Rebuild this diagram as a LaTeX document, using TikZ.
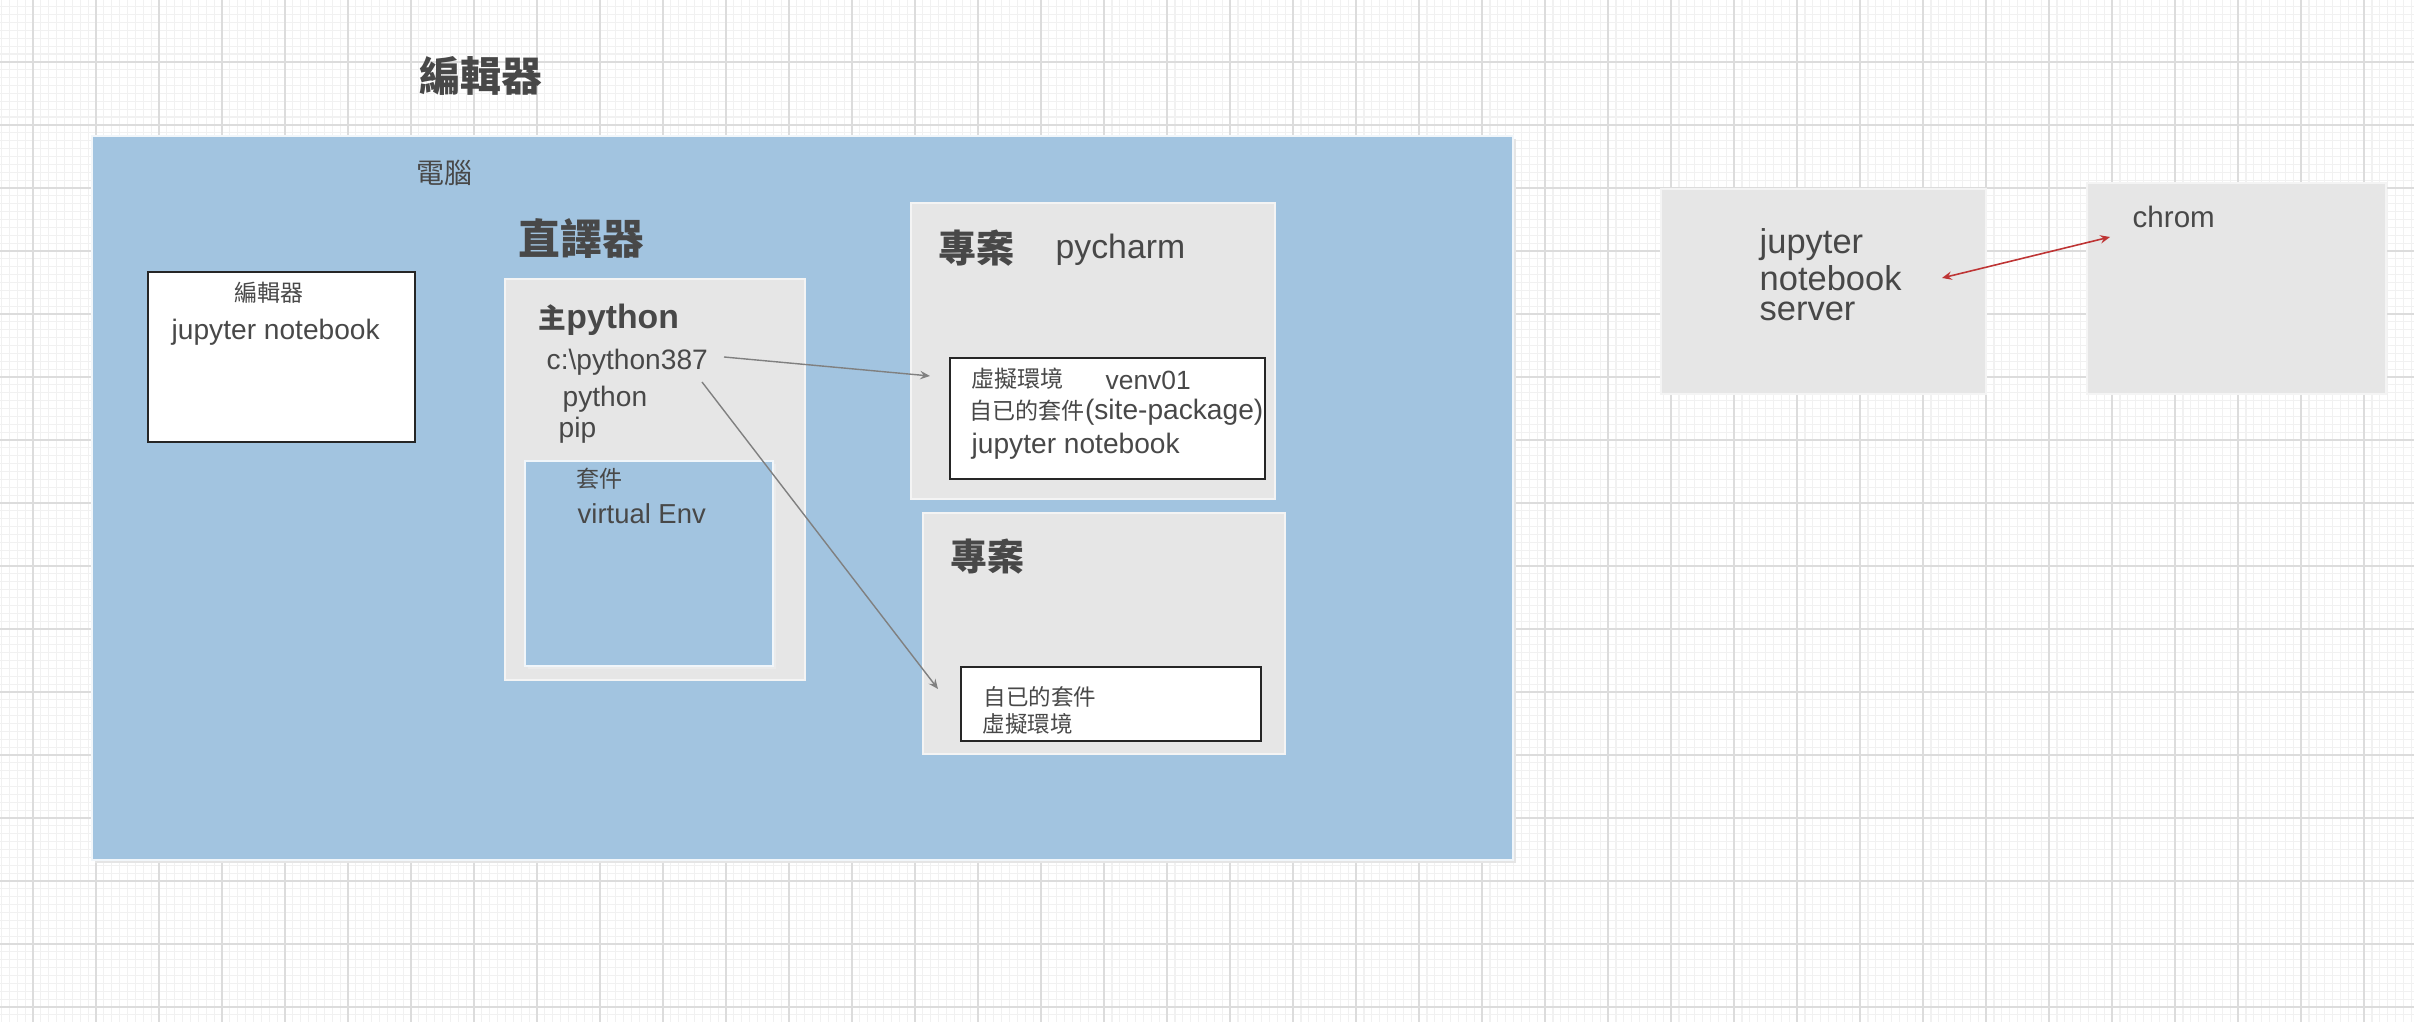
\documentclass[tikz,border=0pt]{standalone}
\usepackage{fontspec}
\setmainfont{Liberation Sans}
\newfontfamily\cjk{Noto Sans CJK TC}[Scale=0.82]
\usetikzlibrary{arrows.meta}

\definecolor{pcblue}{RGB}{162,196,224}
\definecolor{boxgray}{RGB}{230,230,230}
\definecolor{txtgray}{RGB}{72,72,72}
\definecolor{arrowred}{RGB}{190,52,52}
\definecolor{gridminor}{RGB}{241,241,241}
\definecolor{gridmajor}{RGB}{220,220,220}

\begin{document}
\begin{tikzpicture}[x=0.01cm, y=-0.01cm,
  txt/.style={anchor=west, inner sep=0pt, text=txtgray},
  bluebox/.style={fill=pcblue, draw=white!85!pcblue, line width=0.4pt},
  graybox/.style={fill=boxgray, draw=white!55!boxgray, line width=0.5pt},
  whitebox/.style={fill=white, draw=black!85, line width=0.6pt},
  link/.style={draw=black!50, line width=0.4pt, -{Stealth[length=2.8pt,width=2.4pt,inset=1pt]}},
  minorline/.style={draw=gridminor, line width=0.35pt},
  majorline/.style={draw=gridmajor, line width=0.45pt}]

  \useasboundingbox (0,0) rectangle (2414,1022);
  \fill[white] (0,0) rectangle (2414,1022);

  % grid paper
  \foreach \k in {0,...,306}
    \draw[minorline] ({1.5+7.875*\k},0) -- ({1.5+7.875*\k},1022);
  \foreach \k in {1,...,129}
    \draw[minorline] (0,{-1+7.875*\k}) -- (2414,{-1+7.875*\k});
  \foreach \k in {0,...,37}
    \draw[majorline] ({33+63*\k},0) -- ({33+63*\k},1022);
  \foreach \k in {1,...,16}
    \draw[majorline] (0,{-1+63*\k}) -- (2414,{-1+63*\k});

  \node[txt, font=\fontsize{14.2}{16}\selectfont\cjk\bfseries] (title) at (419,76) {編輯器};

  % computer
  \fill[black!10] (95,139) rectangle (1516,863);
  \draw[bluebox] (92,136) rectangle (1513,860);
  \node[txt, font=\fontsize{9.7}{11}\selectfont\cjk] (pc) at (416,173) {電腦};

  % editor
  \draw[whitebox] (148,272) rectangle (415,442);
  \node[txt, font=\fontsize{8}{10}\selectfont\cjk] (edlbl) at (234,292.5) {編輯器};
  \node[txt, font=\fontsize{8}{10}\selectfont] (edjup) at (171,332.5) {jupyter notebook};

  % interpreter
  \node[txt, font=\fontsize{14.5}{16}\selectfont\cjk\bfseries] (interp) at (518,239) {直譯器};
  \draw[graybox] (505,279) rectangle (805,680);
  \node[txt, font=\fontsize{9.6}{11}\selectfont\bfseries] (mainpy) at (538,320) {{\cjk 主}python};
  \node[txt, font=\fontsize{8}{10}\selectfont] (pypath) at (546,362) {c:\textbackslash python387};
  \node[txt, font=\fontsize{8}{10}\selectfont] (pyexe) at (562,399) {python};
  \node[txt, font=\fontsize{8}{10}\selectfont] (pip) at (558,430) {pip};

  \fill[black!8] (528,464) rectangle (776,669);
  \draw[bluebox] (525,461) rectangle (773,666);
  \node[txt, font=\fontsize{8}{10}\selectfont\cjk] (pkg) at (576,478.5) {套件};
  \node[txt, font=\fontsize{7.8}{10}\selectfont] (venv) at (577,514) {virtual Env};

  % project pycharm
  \draw[graybox] (911,203) rectangle (1275,499);
  \node[txt, font=\fontsize{13.2}{15}\selectfont\cjk\bfseries] (proj1) at (938,248) {專案};
  \node[txt, font=\fontsize{9.6}{11}\selectfont] (pycharm) at (1055,250) {pycharm};
  \draw[whitebox] (950,358) rectangle (1265,479);
  \node[txt, font=\fontsize{8}{10}\selectfont\cjk] (venvlbl) at (971,379) {虛擬環境};
  \node[txt, font=\fontsize{7.5}{10}\selectfont] (venvname) at (1105,380) {venv01};
  \node[txt, font=\fontsize{8}{10}\selectfont] (sitepkg) at (969,412) {{\cjk 自已的套件}(site-package)};
  \node[txt, font=\fontsize{8}{10}\selectfont] (projjup) at (971,446) {jupyter notebook};

  % second project
  \draw[graybox] (923,513) rectangle (1285,754);
  \node[txt, font=\fontsize{12.8}{15}\selectfont\cjk\bfseries] (proj2) at (950,556.5) {專案};
  \draw[whitebox] (961,667) rectangle (1261,741);
  \node[txt, font=\fontsize{7.8}{10}\selectfont\cjk] (ownpkg) at (983,696.5) {自已的套件};
  \node[txt, font=\fontsize{7.8}{10}\selectfont\cjk] (ownvenv) at (982,723.5) {虛擬環境};

  \coordinate (a1s) at (724,357);
  \coordinate (a1e) at (930,376);
  \coordinate (a2s) at (702,382);
  \coordinate (a2e) at (938,689);
  \draw[link] (a1s) -- (a1e);
  \draw[link] (a2s) -- (a2e);

  % server and browser
  \draw[graybox] (1661,189) rectangle (1986,394);
  \node[txt, font=\fontsize{9.8}{11}\selectfont] (srv1) at (1759,245) {jupyter};
  \node[txt, font=\fontsize{9.8}{11}\selectfont] (srv2) at (1759,278) {notebook};
  \node[txt, font=\fontsize{9.8}{11}\selectfont] (srv3) at (1759,311.5) {server};

  \draw[graybox] (2087,183) rectangle (2386,394);
  \node[txt, font=\fontsize{8.4}{10}\selectfont] (chrom) at (2132,216.5) {chrom};

  \coordinate (r1) at (1942,278);
  \coordinate (r2) at (2110,237);
  \draw[draw=arrowred, line width=0.45pt, {Stealth[length=2.8pt,width=2.4pt,inset=1pt]}-{Stealth[length=2.8pt,width=2.4pt,inset=1pt]}] (r1) -- (r2);

\end{tikzpicture}
\end{document}
